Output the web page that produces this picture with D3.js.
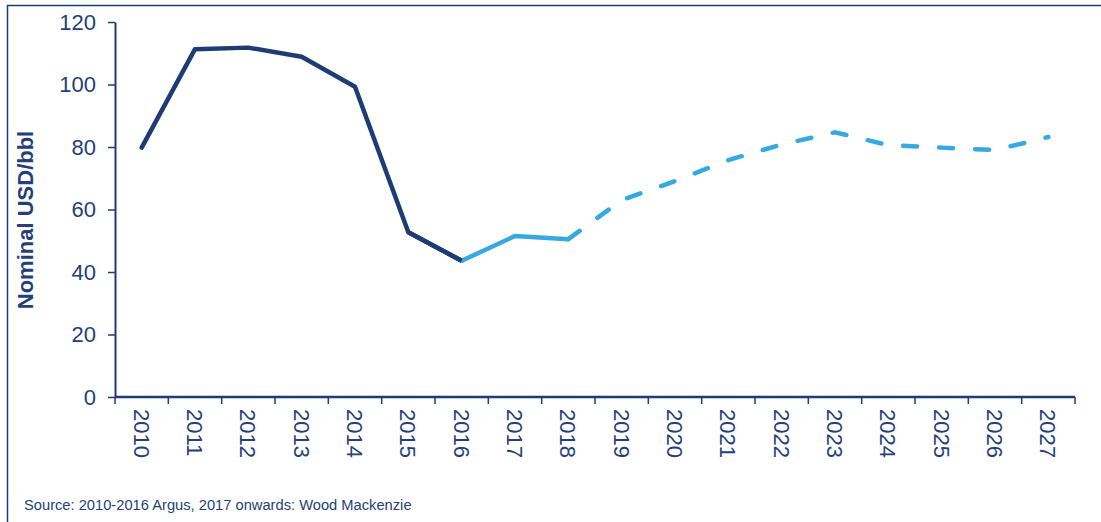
<!DOCTYPE html>
<html>
<head>
<meta charset="utf-8">
<script src="https://cdn.jsdelivr.net/npm/d3@7"></script>
<style>
  html, body { margin: 0; padding: 0; background: #fff; }
  svg { display: block; font-family: "Liberation Sans", Arial, sans-serif; }
</style>
</head>
<body>
<svg id="chart" width="1101" height="522"></svg>
<script>
// Crude oil price, nominal USD per barrel
const years = ["2010", "2011", "2012", "2013", "2014", "2015", "2016", "2017", "2018",
               "2019", "2020", "2021", "2022", "2023", "2024", "2025", "2026", "2027"];
// Argus history, 2010-2016
const argusPrice = [79.8, 111.3, 111.8, 108.9, 99.3, 52.7, 43.6];
// Wood Mackenzie, 2017 onwards
const woodmacPrice = [51.5, 50.5, 63.0, 69.1, 75.8, 80.8, 84.7, 80.6, 79.8, 79.0, 83.2];
const forecastFrom = "2018";
const yTicks = [0, 20, 40, 60, 80, 100, 120];
const yTitle = "Nominal USD/bbl";
const sourceNote = "Source: 2010-2016 Argus, 2017 onwards: Wood Mackenzie";

const navy = "#1f3b74";
const textColor = "#243f7a";
const lightBlue = "#36a9e1";

const svg = d3.select("#chart");

// Outer frame (runs off the right and bottom edges)
svg.append("path")
  .attr("d", "M7.5,530 V5.5 H1110")
  .attr("fill", "none")
  .attr("stroke", navy)
  .attr("stroke-width", 1.5);

const x = d3.scaleBand().domain(years).range([115, 1075]).padding(0);
const y = d3.scaleLinear().domain([0, 120]).range([397, 22]);
const cx = d => x(d) + x.bandwidth() / 2;

// Y axis
const yAxis = svg.append("g")
  .attr("transform", "translate(115,0)")
  .call(d3.axisLeft(y).tickValues(yTicks).tickSize(7).tickSizeOuter(0).tickPadding(12));
yAxis.select(".domain").attr("stroke", navy).attr("stroke-width", 2);
yAxis.selectAll(".tick line").attr("stroke", navy).attr("stroke-width", 1.5);
yAxis.selectAll(".tick text")
  .attr("fill", textColor)
  .style("font-size", "22px")
  .style("font-family", "'Liberation Sans', Arial, sans-serif");

// X axis: ticks on category boundaries, labels centred in each band
const xAxis = svg.append("g");
xAxis.append("line")
  .attr("x1", x.range()[0]).attr("x2", x.range()[1])
  .attr("y1", y(0)).attr("y2", y(0))
  .attr("stroke", navy).attr("stroke-width", 2.5);
const bounds = years.map(d => x(d)).concat([x.range()[1]]);
xAxis.selectAll("line.tick")
  .data(bounds)
  .join("line")
  .attr("class", "tick")
  .attr("x1", d => d).attr("x2", d => d)
  .attr("y1", y(0)).attr("y2", y(0) + 7)
  .attr("stroke", navy).attr("stroke-width", 1.5);
xAxis.selectAll("text")
  .data(years)
  .join("text")
  .attr("transform", d => `translate(${cx(d)},409) rotate(90)`)
  .attr("dy", "0.36em")
  .attr("text-anchor", "start")
  .attr("fill", textColor)
  .style("font-size", "22px")
  .text(d => d);

// Y axis title
svg.append("text")
  .attr("transform", `translate(25,${(128 + 312) / 2}) rotate(-90)`)
  .attr("text-anchor", "middle")
  .attr("dy", "0.36em")
  .attr("fill", textColor)
  .style("font-size", "22px")
  .style("font-weight", "bold")
  .text(yTitle);

// Source note
svg.append("text")
  .attr("x", 24).attr("y", 510)
  .attr("fill", textColor)
  .style("font-size", "14.7px")
  .text(sourceNote);

// Series points
const argusPts = argusPrice.map((v, i) => ({ year: years[i], value: v }));
const wmStart = argusPrice.length;
const wmPts = woodmacPrice.map((v, i) => ({ year: years[wmStart + i], value: v }));
const joinPt = argusPts[argusPts.length - 1];
const fi = years.indexOf(forecastFrom) - wmStart;
const wmActual = [joinPt].concat(wmPts.slice(0, fi + 1));
const wmForecast = wmPts.slice(fi);

const line = d3.line().x(d => cx(d.year)).y(d => y(d.value));

svg.append("path")
  .datum(argusPts)
  .attr("d", line)
  .attr("fill", "none")
  .attr("stroke", navy)
  .attr("stroke-width", 4.5)
  .attr("stroke-linejoin", "round")
  .attr("stroke-linecap", "round");

svg.append("path")
  .datum(wmActual)
  .attr("d", line)
  .attr("fill", "none")
  .attr("stroke", lightBlue)
  .attr("stroke-width", 4.5)
  .attr("stroke-linejoin", "round")
  .attr("stroke-linecap", "round");

svg.append("path")
  .datum(wmForecast)
  .attr("d", line)
  .attr("fill", "none")
  .attr("stroke", lightBlue)
  .attr("stroke-width", 4.5)
  .attr("stroke-linejoin", "round")
  .attr("stroke-linecap", "round")
  .attr("stroke-dasharray", "14,22");

// Re-draw the junction so the dark line sits on top at 2016
svg.append("path")
  .datum(argusPts.slice(-2))
  .attr("d", line)
  .attr("fill", "none")
  .attr("stroke", navy)
  .attr("stroke-width", 4.5)
  .attr("stroke-linecap", "butt");
</script>
</body>
</html>
